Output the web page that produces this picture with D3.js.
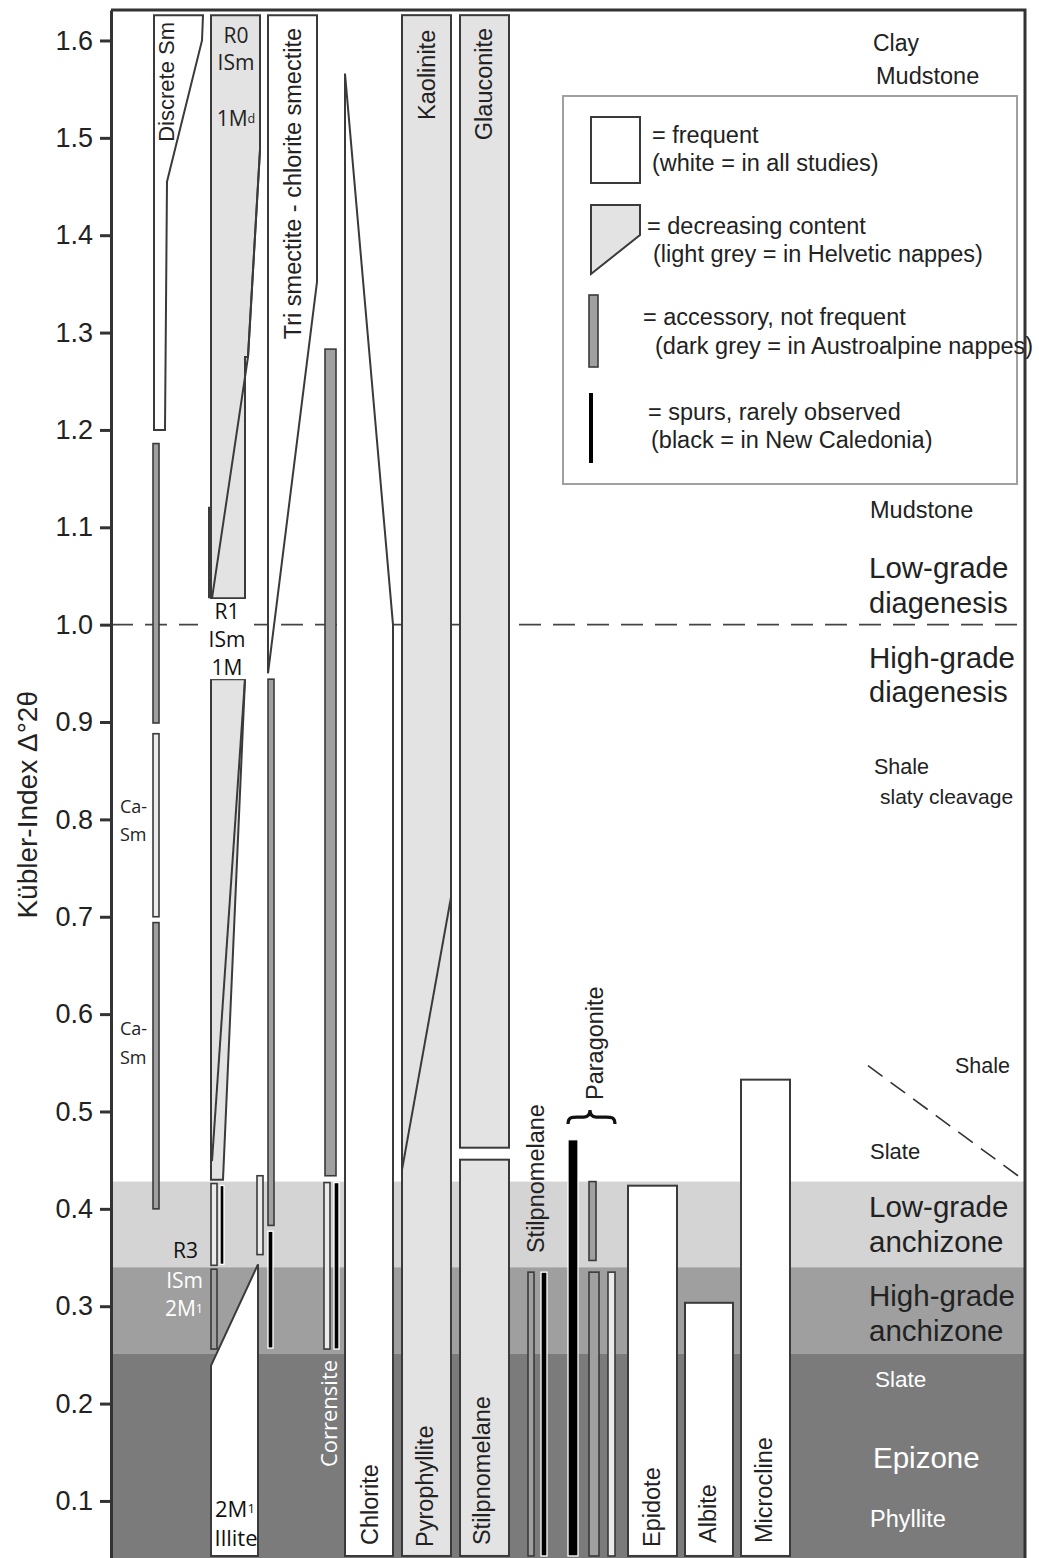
<!DOCTYPE html>
<html><head><meta charset="utf-8">
<script src="https://cdn.jsdelivr.net/npm/d3@7"></script>
<style>body{margin:0;background:#fff}svg{display:block}</style>
</head><body>
<svg id="c" width="1039" height="1558"></svg>
<script>
// ---------- DATA ----------
const WHITE = "#ffffff", LIGHT = "#e2e3e2", DARK = "#9fa09f", BLACK = "#000000", PALE = "#ebebeb";
const TOP = 1.626, BASE = 0.0435;   // column top/bottom (Kübler-Index)

const yTicks = [1.6, 1.5, 1.4, 1.3, 1.2, 1.1, 1.0, 0.9, 0.8, 0.7, 0.6, 0.5, 0.4, 0.3, 0.2, 0.1];

// metamorphic zone bands (KI limits)
const bandNames   = ["Low-grade anchizone", "High-grade anchizone", "Epizone"];
const bandTops    = [0.428, 0.34, 0.251];
const bandBottoms = [0.34, 0.251, 0.03];
const bandFills   = ["#d4d4d4", "#9e9f9e", "#7b7b7b"];

// polygon shapes: [x position unit, KI]
const shapeNames  = ["Discrete Sm", "R0 ISm 1Md", "R1 ISm 1M", "Tri smectite - chlorite smectite", "2M1 Illite", "Chlorite"];
const shapeFills  = [WHITE, LIGHT, LIGHT, WHITE, WHITE, WHITE];
const shapePoints = [
  [[43, TOP], [92, TOP], [91, 1.6], [56, 1.455], [54, 1.2], [43, 1.2]],
  [[100, TOP], [149, TOP], [149, 1.4875], [137, 1.275], [134, 1.275], [134, 1.027], [100, 1.027]],
  [[100, 0.944], [134, 0.944], [112, 0.43], [100, 0.43]],
  [[157, TOP], [206, TOP], [206, 1.352], [157, 0.95]],
  [[100, BASE], [100, 0.239], [147, 0.343], [147, BASE]],
  [[234, 1.566], [282, 1.0], [282, BASE], [234, BASE]]
];

// trend lines inside columns
const trendLines = [
  [[149, 1.4875], [137, 1.275], [101, 1.027]],
  [[98, 1.121], [98, 1.027]],
  [[134, 0.944], [101, 0.449]],
  [[340, 0.72], [291, 0.44]]
];

// rectangular columns
const colNames  = ["Kaolinite / Pyrophyllite", "Glauconite", "Stilpnomelane", "Epidote", "Albite", "Microcline"];
const colX0     = [291, 349, 349, 517, 574, 630];
const colX1     = [340, 398, 398, 566, 622, 679];
const colTop    = [TOP, TOP, 0.4505, 0.4238, 0.3035, 0.5327];
const colBottom = [BASE, 0.4628, BASE, BASE, BASE, BASE];
const colFill   = [LIGHT, LIGHT, LIGHT, WHITE, WHITE, WHITE];

// thin bars (accessory / pale / spurs)
const barNames  = ["Ca-Sm", "Ca-Sm", "Ca-Sm", "Tri Sm", "Tri Sm", "Tri Sm", "R3 ISm", "R3 ISm", "R3 ISm",
                   "Corrensite", "Corrensite", "Corrensite", "Stilpnomelane", "Stilpnomelane",
                   "Paragonite", "Paragonite", "Paragonite", "Paragonite"];
const barX0     = [42, 42, 42, 157, 146, 157, 100, 109, 100, 214, 213, 223, 417, 430, 457, 478, 478, 497];
const barX1     = [48, 48, 48, 163, 152, 162, 106, 113, 106, 225, 219, 228, 423, 436, 467, 485, 488, 504];
const barTop    = [1.186, 0.888, 0.694, 0.944, 0.434, 0.377, 0.426, 0.424, 0.338, 1.283, 0.427, 0.427, 0.335, 0.335, 0.471, 0.428, 0.335, 0.335];
const barBottom = [0.899, 0.70, 0.40, 0.383, 0.353, 0.257, 0.342, 0.343, 0.256, 0.434, 0.256, 0.256, BASE, BASE, BASE, 0.347, BASE, BASE];
const barType   = ["acc", "pale", "acc", "acc", "pale", "spur", "pale", "spur", "acc", "acc", "pale", "spur", "acc", "spur", "spur", "acc", "acc", "pale"];

// rotated column labels
const vLabText   = ["Discrete Sm", "Tri smectite - chlorite smectite", "Kaolinite", "Glauconite", "Chlorite", "Pyrophyllite",
                    "Stilpnomelane", "Corrensite", "Stilpnomelane", "Paragonite", "Epidote", "Albite", "Microcline"];
const vLabX      = [55, 182, 316, 373, 259, 314, 371, 217, 425, 484, 541, 597, 653];
const vLabKI     = [1.619, 1.6128, 1.611, 1.613, 0.0547, 0.0527, 0.0547, 0.1348, 0.3546, 0.5118, 0.0527, 0.0568, 0.0568];
const vLabAnchor = ["end", "end", "end", "end", "start", "start", "start", "start", "start", "start", "start", "start", "start"];
const vLabColor  = ["#222", "#222", "#222", "#222", "#222", "#222", "#222", "#fff", "#222", "#222", "#222", "#222", "#222"];

// horizontal labels inside the left columns
const hLabText   = ["R0", "ISm", "1M|d", "R1", "ISm", "1M", "Ca-", "Sm", "Ca-", "Sm", "R3", "ISm", "2M|1", "2M|1", "Illite"];
const hLabX      = [125, 125, 125, 116, 116, 116, 9, 9, 9, 9, 87, 92, 92, 124, 125];
const hLabKI     = [1.6056, 1.5779, 1.5204, 1.0140, 0.9852, 0.9565, 0.8137, 0.7850, 0.5857, 0.5559, 0.3577, 0.3269, 0.2981, 0.0927, 0.0629];
const hLabAnchor = ["middle", "middle", "middle", "middle", "middle", "middle", "start", "start", "start", "start", "end", "end", "end", "middle", "middle"];
const hLabColor  = ["#222", "#222", "#222", "#111", "#111", "#111", "#222", "#222", "#222", "#222", "#111", "#fff", "#fff", "#111", "#111"];
const hLabSize   = [21, 21, 21, 21, 21, 21, 18, 18, 18, 18, 21, 21, 21, 22, 22];

// rock / zone labels on the right
const rLabText  = ["Clay", "Mudstone", "Mudstone", "Low-grade", "diagenesis", "High-grade", "diagenesis", "Shale", "slaty cleavage",
                   "Shale", "Slate", "Low-grade", "anchizone", "High-grade", "anchizone", "Slate", "Epizone", "Phyllite"];
const rLabX     = [762, 765, 759, 758, 758, 758, 758, 763, 769, 844, 759, 758, 758, 758, 758, 764, 762, 759];
const rLabKI    = [1.5974, 1.5635, 1.1177, 1.0582, 1.0222, 0.9658, 0.9308, 0.8538, 0.8240, 0.5467, 0.4584, 0.4029, 0.3669, 0.3115, 0.2755, 0.2252, 0.1451, 0.0815];
const rLabSize  = [23, 23.5, 23.5, 29.5, 29, 29.5, 29, 21.5, 21, 21.5, 22, 29.5, 29.5, 29.5, 29.5, 22.5, 29.5, 23.5];
const rLabColor = ["#222", "#222", "#222", "#222", "#222", "#222", "#222", "#222", "#222", "#222", "#222", "#222", "#222", "#222", "#222", "#fff", "#fff", "#fff"];

// boundaries
const diagenesisLimit = 1.0;
const shaleSlateLine = [[757, 0.547], [907, 0.434]];

// legend
const legendText = [["= frequent", "(white = in all studies)"],
                    ["= decreasing content", " (light grey = in Helvetic nappes)"],
                    ["= accessory, not frequent", " (dark grey = in Austroalpine nappes)"],
                    ["= spurs, rarely observed", "(black = in New Caledonia)"]];

// ---------- DRAW ----------
const W = 1039, H = 1558;
const svg = d3.select("#c");
const x = d3.scaleLinear().domain([0, 914]).range([111, 1025]);
const y = d3.scaleLinear().domain([0.0414, 1.6313]).range([1558, 10]);
const STROKE = "#3a3a3a";
const SANS = "'Liberation Sans', Arial, sans-serif";
const MYR = "'Open Sans', 'Noto Sans', sans-serif";

// bands
svg.append("g").selectAll("rect").data(bandNames).join("rect")
  .attr("x", x(0)).attr("width", x(914) - x(0))
  .attr("y", (d, i) => y(bandTops[i]))
  .attr("height", (d, i) => y(bandBottoms[i]) - y(bandTops[i]))
  .attr("fill", (d, i) => bandFills[i]);

// diagenesis boundary dashed
svg.append("line").attr("x1", x(0)).attr("x2", x(914))
  .attr("y1", y(diagenesisLimit)).attr("y2", y(diagenesisLimit))
  .attr("stroke", "#444").attr("stroke-width", 1.6).attr("stroke-dasharray", "22,12");

const line = d3.line().x(d => x(d[0])).y(d => y(d[1]));

svg.append("path").attr("d", line(shaleSlateLine)).attr("fill", "none")
  .attr("stroke", "#333").attr("stroke-width", 1.6).attr("stroke-dasharray", "18,10");

// columns
svg.append("g").selectAll("rect").data(colNames).join("rect")
  .attr("x", (d, i) => x(colX0[i])).attr("width", (d, i) => x(colX1[i]) - x(colX0[i]))
  .attr("y", (d, i) => y(colTop[i])).attr("height", (d, i) => y(colBottom[i]) - y(colTop[i]))
  .attr("fill", (d, i) => colFill[i]).attr("stroke", STROKE).attr("stroke-width", 2);

// polygons
svg.append("g").selectAll("path").data(shapeNames).join("path")
  .attr("d", (d, i) => line(shapePoints[i]) + "Z")
  .attr("fill", (d, i) => shapeFills[i]).attr("stroke", STROKE).attr("stroke-width", 2)
  .attr("stroke-linejoin", "miter");

svg.append("g").selectAll("path").data(trendLines).join("path")
  .attr("d", d => line(d)).attr("fill", "none").attr("stroke", STROKE).attr("stroke-width", 2);

// bars
const barFill = {acc: DARK, pale: PALE, spur: BLACK};
svg.append("g").selectAll("rect").data(barNames).join("rect")
  .attr("x", (d, i) => x(barX0[i])).attr("width", (d, i) => x(barX1[i]) - x(barX0[i]))
  .attr("y", (d, i) => y(barTop[i])).attr("height", (d, i) => y(barBottom[i]) - y(barTop[i]))
  .attr("fill", (d, i) => barFill[barType[i]])
  .attr("stroke", (d, i) => barType[i] === "spur" ? "#fff" : STROKE)
  .attr("stroke-width", (d, i) => barType[i] === "spur" ? 1.3 : 1.6);

// white background behind R1 labels
svg.append("rect").attr("x", x(87)).attr("width", x(143) - x(87))
  .attr("y", y(1.0263)).attr("height", y(0.9441) - y(1.0263)).attr("fill", "#fff");

// brace above Paragonite
{
  const xl = x(457), xm = x(479), xr = x(504), yt = y(0.5015), ym = y(0.4943), yb = y(0.4871);
  const p = `M${xl},${yb} C${xl},${ym} ${xl + 4},${ym} ${xl + 9},${ym} L${xm - 6},${ym} C${xm - 2},${ym} ${xm},${ym - 2} ${xm},${yt}
             C${xm},${ym - 2} ${xm + 2},${ym} ${xm + 6},${ym} L${xr - 9},${ym} C${xr - 4},${ym} ${xr},${ym} ${xr},${yb}`;
  svg.append("path").attr("d", p).attr("fill", "none").attr("stroke", "#111").attr("stroke-width", 3.2);
}

// rotated labels
svg.append("g").selectAll("text").data(vLabText).join("text")
  .attr("transform", (d, i) => `translate(${x(vLabX[i])},${y(vLabKI[i])}) rotate(-90)`)
  .attr("text-anchor", (d, i) => vLabAnchor[i]).attr("dominant-baseline", "central")
  .attr("font-family", (d, i) => d === "Corrensite" ? MYR : SANS)
  .attr("font-size", (d, i) => i === 0 ? 22 : (d === "Corrensite" ? 22 : 23.5))
  .attr("fill", (d, i) => vLabColor[i]).text(d => d);

// horizontal column labels (with small-index tspans)
svg.append("g").selectAll("text").data(hLabText).join("text")
  .attr("x", (d, i) => x(hLabX[i])).attr("y", (d, i) => y(hLabKI[i]))
  .attr("text-anchor", (d, i) => hLabAnchor[i]).attr("dominant-baseline", "central")
  .attr("font-family", MYR).attr("font-size", (d, i) => hLabSize[i])
  .attr("fill", (d, i) => hLabColor[i])
  .each(function (d, i) {
    const parts = d.split("|");
    const t = d3.select(this);
    t.append("tspan").text(parts[0]);
    if (parts[1]) t.append("tspan").attr("font-size", hLabSize[i] * 0.6).text(parts[1]);
  });

// right labels
svg.append("g").selectAll("text").data(rLabText).join("text")
  .attr("x", (d, i) => x(rLabX[i])).attr("y", (d, i) => y(rLabKI[i]))
  .attr("dominant-baseline", "central")
  .attr("font-family", SANS).attr("font-size", (d, i) => rLabSize[i])
  .attr("fill", (d, i) => rLabColor[i]).text(d => d);

// legend
{
  const g = svg.append("g").attr("transform", "translate(563,96)");
  g.append("rect").attr("width", 454).attr("height", 388).attr("fill", "#fff")
    .attr("stroke", "#a0a0a0").attr("stroke-width", 2);
  g.append("rect").attr("x", 28).attr("y", 21).attr("width", 49).attr("height", 66)
    .attr("fill", WHITE).attr("stroke", STROKE).attr("stroke-width", 2);
  g.append("path").attr("d", "M28,109 L77,109 L77,139 L28,178 Z")
    .attr("fill", LIGHT).attr("stroke", STROKE).attr("stroke-width", 2);
  g.append("rect").attr("x", 26).attr("y", 199).attr("width", 9).attr("height", 72)
    .attr("fill", DARK).attr("stroke", STROKE).attr("stroke-width", 1.6);
  g.append("rect").attr("x", 26).attr("y", 297).attr("width", 4).attr("height", 70).attr("fill", BLACK);
  const lx = [[89, 89], [84, 90], [80, 92], [85, 88]];
  const ly = [[39, 67], [130, 158], [221, 250], [316, 344]];
  legendText.forEach((pair, i) => pair.forEach((s, j) => {
    g.append("text").attr("x", lx[i][j]).attr("y", ly[i][j]).attr("dominant-baseline", "central")
      .attr("font-family", SANS).attr("font-size", 23.5).attr("fill", "#222").text(s);
  }));
}

// axis
const axis = d3.axisLeft(y).tickValues(yTicks).tickFormat(d3.format(".1f")).tickSize(11).tickSizeOuter(0);
const ag = svg.append("g").attr("transform", `translate(${x(0)},0)`).call(axis);
ag.select(".domain").attr("stroke", "#333").attr("stroke-width", 3);
ag.selectAll(".tick line").attr("stroke", "#333").attr("stroke-width", 3);
ag.selectAll(".tick text").attr("font-family", SANS).attr("font-size", 27).attr("fill", "#222").attr("x", -18);

// frame top/right
svg.append("path").attr("d", `M${x(0)},${y(1.6313)} L${x(914)},${y(1.6313)} L${x(914)},${H + 5}`)
  .attr("fill", "none").attr("stroke", "#333").attr("stroke-width", 3);

// axis title
svg.append("text").attr("transform", `translate(27,${y(0.815)}) rotate(-90)`)
  .attr("text-anchor", "middle").attr("dominant-baseline", "central")
  .attr("font-family", SANS).attr("font-size", 28).attr("fill", "#222")
  .text("Kübler-Index Δ°2θ");
</script>
</body></html>
